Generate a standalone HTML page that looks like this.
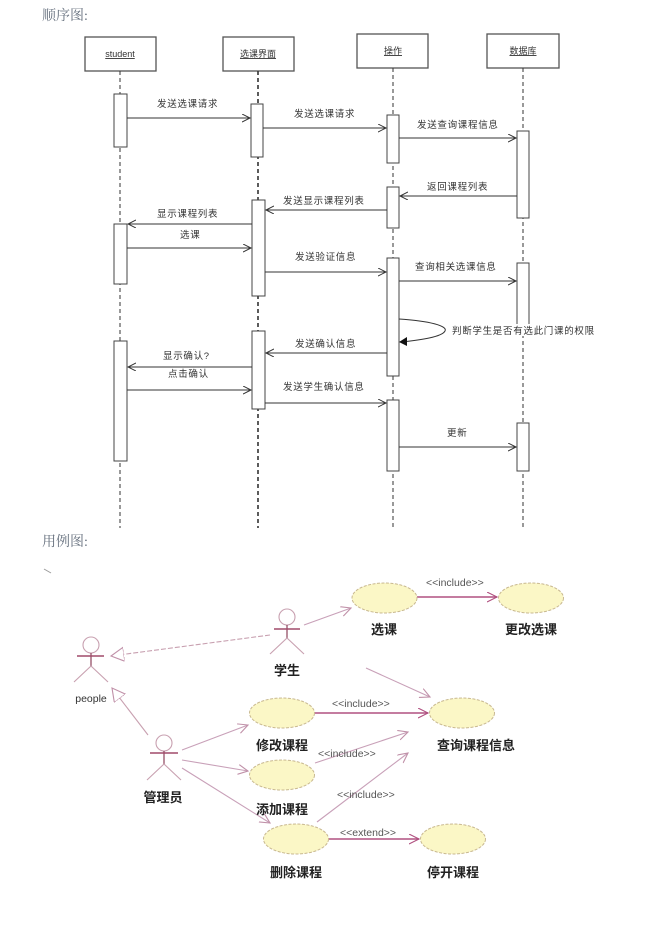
<!DOCTYPE html>
<html>
<head>
<meta charset="utf-8">
<style>
html,body{margin:0;padding:0;background:#fff;}
body{width:672px;height:951px;overflow:hidden;}
svg{display:block;}
.t{font-family:"Liberation Serif","Noto Serif CJK SC",serif;font-size:14px;fill:#66707e;}
.m{font-family:"Liberation Sans","Noto Sans CJK SC",sans-serif;font-size:9.5px;fill:#333;letter-spacing:0.7px;}
.hd{font-family:"Liberation Sans","Noto Sans CJK SC",sans-serif;font-size:9px;fill:#333;text-decoration:underline;}
.uc{font-family:"Liberation Sans","Noto Sans CJK SC",sans-serif;font-size:13px;fill:#222;font-weight:bold;}
.st{font-family:"Liberation Sans","Noto Sans CJK SC",sans-serif;font-size:10.5px;fill:#555;}
</style>
</head>
<body>
<svg width="672" height="951" viewBox="0 0 672 951" xmlns="http://www.w3.org/2000/svg">
<defs>
<marker id="oa" markerWidth="10" markerHeight="10" refX="8" refY="4" orient="auto" markerUnits="userSpaceOnUse">
<polyline points="0,0 8,4 0,8" fill="none" stroke="#333" stroke-width="1"/>
</marker>
<marker id="pa" markerWidth="12" markerHeight="12" refX="10" refY="5" orient="auto" markerUnits="userSpaceOnUse">
<polyline points="0,0 10,5 0,10" fill="none" stroke="#c090a8" stroke-width="1.1"/>
</marker>
<marker id="pd" markerWidth="12" markerHeight="12" refX="10" refY="5" orient="auto" markerUnits="userSpaceOnUse">
<polyline points="0,0 10,5 0,10" fill="none" stroke="#b05080" stroke-width="1.1"/>
</marker>
<marker id="tri" markerWidth="16" markerHeight="16" refX="13" refY="7" orient="auto" markerUnits="userSpaceOnUse">
<polygon points="0,0 13,7 0,14" fill="#fff" stroke="#c090a8" stroke-width="1.1"/>
</marker>
</defs>

<!-- Titles -->
<text class="t" x="42" y="20">顺序图:</text>
<text class="t" x="42" y="546">用例图:</text>

<!-- ===== Sequence diagram ===== -->
<g stroke="#555" stroke-width="1.3" fill="#fff">
<rect x="85" y="37" width="71" height="34"/>
<rect x="223" y="37" width="71" height="34"/>
<rect x="357" y="34" width="71" height="34"/>
<rect x="487" y="34" width="72" height="34"/>
</g>
<text class="hd" x="120" y="57" text-anchor="middle">student</text>
<text class="hd" x="258" y="57" text-anchor="middle">选课界面</text>
<text class="hd" x="393" y="54" text-anchor="middle">操作</text>
<text class="hd" x="523" y="54" text-anchor="middle">数据库</text>

<!-- lifelines -->
<g stroke="#333" stroke-width="1" stroke-dasharray="4,3" fill="none">
<line x1="120" y1="71" x2="120" y2="528"/>
<line x1="258" y1="71" x2="258" y2="528" stroke-width="1.6"/>
<line x1="393" y1="68" x2="393" y2="528"/>
<line x1="523" y1="68" x2="523" y2="528"/>
</g>

<!-- activations -->
<g stroke="#444" stroke-width="1" fill="#fff">
<rect x="114" y="94" width="13" height="53"/>
<rect x="114" y="224" width="13" height="60"/>
<rect x="114" y="341" width="13" height="120"/>
<rect x="251" y="104" width="12" height="53"/>
<rect x="252" y="200" width="13" height="96"/>
<rect x="252" y="331" width="13" height="78"/>
<rect x="387" y="115" width="12" height="48"/>
<rect x="387" y="187" width="12" height="41"/>
<rect x="387" y="258" width="12" height="118"/>
<rect x="387" y="400" width="12" height="71"/>
<rect x="517" y="131" width="12" height="87"/>
<rect x="517" y="263" width="12" height="64"/>
<rect x="517" y="423" width="12" height="48"/>
</g>

<!-- messages -->
<g stroke="#333" stroke-width="1" fill="none" marker-end="url(#oa)">
<line x1="127" y1="118" x2="250" y2="118"/>
<line x1="263" y1="128" x2="386" y2="128"/>
<line x1="399" y1="138" x2="516" y2="138"/>
<line x1="517" y1="196" x2="400" y2="196"/>
<line x1="387" y1="210" x2="266" y2="210"/>
<line x1="252" y1="224" x2="128" y2="224"/>
<line x1="127" y1="248" x2="251" y2="248"/>
<line x1="265" y1="272" x2="386" y2="272"/>
<line x1="399" y1="281" x2="516" y2="281"/>
<line x1="387" y1="353" x2="266" y2="353"/>
<line x1="252" y1="367" x2="128" y2="367"/>
<line x1="127" y1="390" x2="251" y2="390"/>
<line x1="265" y1="403" x2="386" y2="403"/>
<line x1="399" y1="447" x2="516" y2="447"/>
</g>
<!-- self message -->
<path d="M399,319 C430,321 448,326 445,331 C442,337 420,340 402,342" fill="none" stroke="#333" stroke-width="1"/>
<polygon points="399,342 407,337 407,346" fill="#111"/>

<g class="m">
<text x="157" y="107">发送选课请求</text>
<text x="294" y="117">发送选课请求</text>
<text x="417" y="128">发送查询课程信息</text>
<text x="427" y="190">返回课程列表</text>
<text x="283" y="204">发送显示课程列表</text>
<text x="157" y="217">显示课程列表</text>
<text x="180" y="238">选课</text>
<text x="295" y="260">发送验证信息</text>
<text x="415" y="270">查询相关选课信息</text>
<text x="295" y="347">发送确认信息</text>
<text x="163" y="359">显示确认?</text>
<text x="168" y="377">点击确认</text>
<text x="283" y="390">发送学生确认信息</text>
<text x="447" y="436">更新</text>
</g>
<rect x="450" y="324" width="148" height="12" fill="#fff"/>
<text class="m" x="452" y="334">判断学生是否有选此门课的权限</text>

<!-- ===== Use case diagram ===== -->
<line x1="44" y1="569" x2="51" y2="573" stroke="#999" stroke-width="1"/>

<!-- actors -->
<g fill="none" stroke-width="1.1">
<!-- people -->
<circle cx="91" cy="645" r="8" stroke="#c8a0b0"/>
<line x1="91" y1="653" x2="91" y2="666" stroke="#80304a"/>
<line x1="77" y1="656" x2="104" y2="656" stroke="#a04a6a" stroke-width="1.4"/>
<line x1="91" y1="666" x2="74" y2="682" stroke="#c8a0b0"/>
<line x1="91" y1="666" x2="108" y2="682" stroke="#c8a0b0"/>
<!-- 学生 -->
<circle cx="287" cy="617" r="8" stroke="#c8a0b0"/>
<line x1="287" y1="625" x2="287" y2="638" stroke="#80304a"/>
<line x1="274" y1="629" x2="300" y2="629" stroke="#a04a6a" stroke-width="1.4"/>
<line x1="287" y1="638" x2="270" y2="654" stroke="#c8a0b0"/>
<line x1="287" y1="638" x2="304" y2="654" stroke="#c8a0b0"/>
<!-- 管理员 -->
<circle cx="164" cy="743" r="8" stroke="#c8a0b0"/>
<line x1="164" y1="751" x2="164" y2="764" stroke="#80304a"/>
<line x1="150" y1="753" x2="178" y2="753" stroke="#a04a6a" stroke-width="1.4"/>
<line x1="164" y1="764" x2="147" y2="780" stroke="#c8a0b0"/>
<line x1="164" y1="764" x2="181" y2="780" stroke="#c8a0b0"/>
</g>

<text x="91" y="702" text-anchor="middle" style="font-family:'Liberation Sans',sans-serif;font-size:10.5px;fill:#333;">people</text>
<text class="uc" x="287" y="675" text-anchor="middle">学生</text>
<text class="uc" x="163" y="802" text-anchor="middle">管理员</text>

<!-- generalizations -->
<line x1="270" y1="635" x2="111" y2="656" stroke="#c8a0b0" stroke-width="1.1" stroke-dasharray="5,2" marker-end="url(#tri)"/>
<line x1="148" y1="735" x2="112" y2="688" stroke="#c8a0b0" stroke-width="1.1" marker-end="url(#tri)"/>

<!-- associations -->
<g stroke="#c8a0b8" stroke-width="1.1" fill="none" marker-end="url(#pa)">
<line x1="304" y1="625" x2="351" y2="608"/>
<line x1="366" y1="668" x2="430" y2="697"/>
<line x1="182" y1="750" x2="248" y2="725"/>
<line x1="182" y1="760" x2="248" y2="771"/>
<line x1="182" y1="768" x2="270" y2="823"/>
<line x1="315" y1="763" x2="408" y2="732"/>
<line x1="317" y1="822" x2="408" y2="753"/>
</g>
<g stroke="#b05080" stroke-width="1.4" fill="none" marker-end="url(#pd)">
<line x1="417" y1="597" x2="497" y2="597"/>
<line x1="315" y1="713" x2="428" y2="713"/>
<line x1="329" y1="839" x2="419" y2="839"/>
</g>

<!-- use case ellipses -->
<g fill="#fbf7c6" stroke="#c8b890" stroke-width="1" stroke-dasharray="3,1.5">
<ellipse cx="384.5" cy="598" rx="32.5" ry="15"/>
<ellipse cx="531" cy="598" rx="32.5" ry="15"/>
<ellipse cx="282" cy="713" rx="32.5" ry="15"/>
<ellipse cx="462" cy="713" rx="32.5" ry="15"/>
<ellipse cx="282" cy="775" rx="32.5" ry="15"/>
<ellipse cx="296" cy="839" rx="32.5" ry="15"/>
<ellipse cx="453" cy="839" rx="32.5" ry="15"/>
</g>

<g class="uc" text-anchor="middle">
<text x="384" y="634">选课</text>
<text x="531" y="634">更改选课</text>
<text x="282" y="750">修改课程</text>
<text x="476" y="750">查询课程信息</text>
<text x="282" y="814">添加课程</text>
<text x="296" y="877">删除课程</text>
<text x="453" y="877">停开课程</text>
</g>

<g class="st">
<text x="426" y="586">&lt;&lt;include&gt;&gt;</text>
<text x="332" y="707">&lt;&lt;include&gt;&gt;</text>
<text x="318" y="757">&lt;&lt;include&gt;&gt;</text>
<text x="337" y="798">&lt;&lt;include&gt;&gt;</text>
<text x="340" y="836">&lt;&lt;extend&gt;&gt;</text>
</g>
</svg>
</body>
</html>
